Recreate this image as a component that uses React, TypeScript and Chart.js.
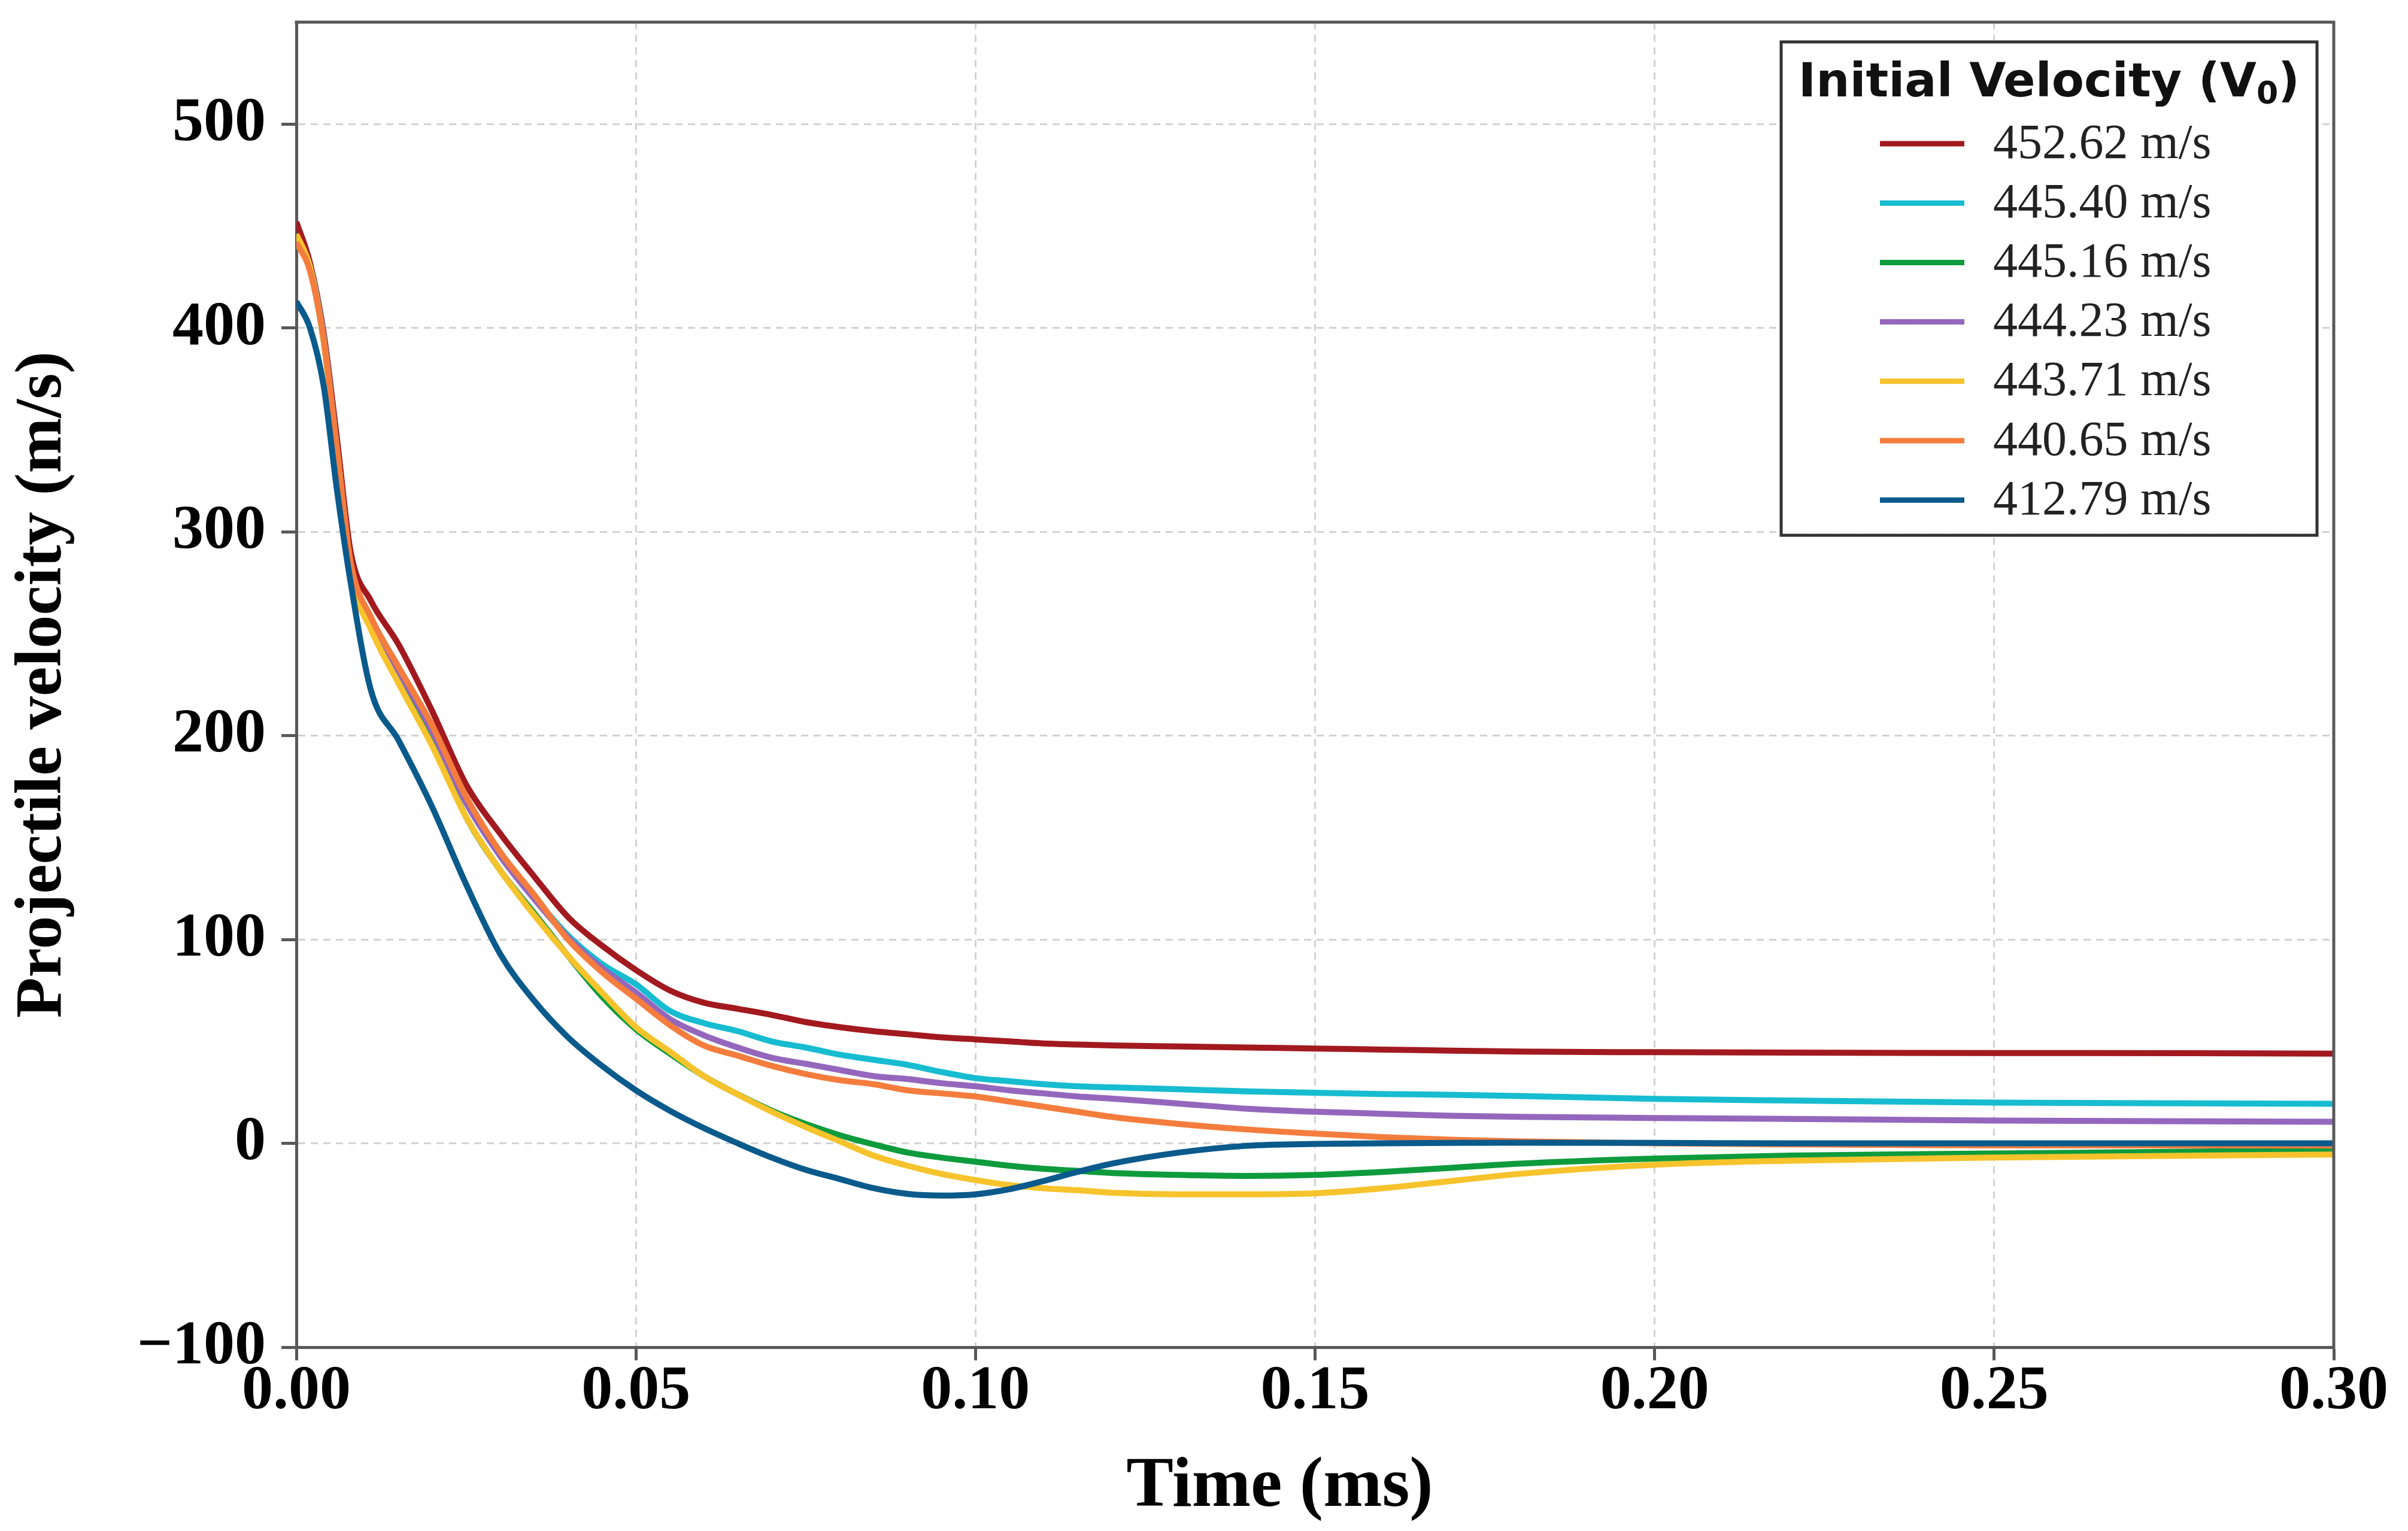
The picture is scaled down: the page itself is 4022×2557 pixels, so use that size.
import React, { useEffect, useRef } from 'react';
import { Chart, registerables } from 'chart.js';

Chart.register(...registerables);

// Time axis samples (ms)
const TIME_MS = [
  0, 0.002, 0.004, 0.006, 0.008, 0.011, 0.015, 0.02, 0.025, 0.03,
  0.035, 0.04, 0.045, 0.05, 0.055, 0.06, 0.065, 0.07, 0.075, 0.08,
  0.085, 0.09, 0.095, 0.1, 0.105, 0.11, 0.115, 0.12, 0.13, 0.14,
  0.15, 0.16, 0.17, 0.18, 0.2, 0.22, 0.25, 0.28, 0.3,
];

// Projectile velocity (m/s) per initial velocity
const V_452_62 = [
  452, 432, 398, 345, 290, 266, 245, 212, 176, 152,
  131, 111, 97, 85, 75, 69, 66, 63, 59.5, 57,
  55, 53.5, 52, 51, 50, 49, 48.5, 48, 47.5, 47,
  46.5, 46, 45.5, 45, 44.7, 44.5, 44.3, 44.2, 44,
];
const V_445_40 = [
  445, 430, 396, 340, 284, 257, 233, 203, 168, 142,
  121, 102, 88, 78, 65, 59, 55, 50, 47, 43.5,
  41, 38.5, 35, 32, 30.5, 29, 28, 27.5, 26.5, 25.5,
  24.8, 24.2, 23.8, 23.2, 21.8, 21, 20, 19.6, 19.4,
];
const V_445_16 = [
  445, 429, 394, 337, 280, 253, 228, 197, 160, 134,
  113, 92, 72, 56, 44, 33, 24, 16, 9.5, 4,
  -0.5, -4.5, -7, -9, -11, -12.5, -13.5, -14.5, -15.5, -16,
  -15.5, -14, -12, -10, -7.5, -6, -5, -4, -3.5,
];
const V_444_23 = [
  444, 429, 395, 339, 283, 256, 232, 202, 167, 141,
  120, 101, 86, 74, 61, 53, 47, 42, 39, 36,
  33, 31.5, 29.5, 28, 26, 24.5, 23, 22, 19.5, 17,
  15.5, 14.5, 13.5, 13, 12.4, 12, 11.2, 10.8, 10.6,
];
const V_443_71 = [
  446, 430, 394, 337, 280, 252, 226, 195, 160, 134,
  112, 92, 74, 57, 45, 33, 24, 15.5, 8, 1,
  -6, -11, -15, -18, -20.5, -22, -23, -24.2, -25, -25,
  -24.5, -22, -18.5, -15, -10.5, -8.5, -7, -6, -5.5,
];
const V_440_65 = [
  442, 428, 395, 340, 285, 258, 234, 205, 170, 143,
  122, 100, 84, 71, 58, 48, 43, 38, 34, 31,
  29, 26, 24.5, 23, 20.5, 18, 15.5, 13, 9.5, 6.8,
  4.8, 3, 1.8, 1, 0, -0.5, -1, -1, -1,
];
const V_412_79 = [
  413, 400, 372, 320, 275, 222, 198, 165, 127, 93,
  70, 52, 38, 26, 16, 7.5, 0, -7, -13, -17.5,
  -22, -24.8, -25.6, -25, -22.5, -18.5, -14, -10, -4.5, -1.2,
  -0.3, 0, 0.2, 0.3, 0.2, 0, 0, 0, 0,
];

const SERIES_LABELS = [
  '452.62 m/s', '445.40 m/s', '445.16 m/s', '444.23 m/s',
  '443.71 m/s', '440.65 m/s', '412.79 m/s',
];
const SERIES_VALUES = [V_452_62, V_445_40, V_445_16, V_444_23, V_443_71, V_440_65, V_412_79];
const SERIES_COLORS = ['#a2191f', '#17bcd0', '#0e9b3d', '#9467bd', '#f6c32c', '#f47d3e', '#0a5a8c'];

const LEGEND_TITLE_MAIN = 'Initial Velocity (V';
const LEGEND_TITLE_SUB = '0';
const LEGEND_TITLE_END = ')';
const X_TITLE = 'Time (ms)';
const Y_TITLE = 'Projectile velocity (m/s)';

const SERIF = '"Liberation Serif", "DejaVu Serif", serif';
const AXIS_COLOR = '#585858';

export default function App() {
  const ref = useRef<HTMLCanvasElement>(null);

  useEffect(() => {
    const canvas = ref.current;
    if (!canvas) return;

    const framePlugin = {
      id: 'frame',
      afterDatasetsDraw(chart: any) {
        const { ctx, chartArea } = chart;
        ctx.save();
        ctx.strokeStyle = AXIS_COLOR;
        ctx.lineWidth = 5;
        ctx.beginPath();
        ctx.moveTo(chartArea.left - 2.5, chartArea.top);
        ctx.lineTo(chartArea.right, chartArea.top);
        ctx.lineTo(chartArea.right, chartArea.bottom + 2.5);
        ctx.stroke();
        ctx.restore();
      },
    };

    const legendPlugin = {
      id: 'boxLegend',
      afterDraw(chart: any) {
        const { ctx, chartArea } = chart;
        const w = 895;
        const h = 824;
        const right = chartArea.right - 28;
        const top = chartArea.top + 33;
        const left = right - w;
        ctx.save();
        ctx.fillStyle = 'rgba(255,255,255,0.95)';
        ctx.fillRect(left, top, w, h);
        ctx.strokeStyle = '#333333';
        ctx.lineWidth = 5;
        ctx.strokeRect(left, top, w, h);

        // title with subscript
        ctx.fillStyle = '#111111';
        ctx.textBaseline = 'alphabetic';
        ctx.textAlign = 'left';
        const mainFont = 'bold 79px "DejaVu Sans", sans-serif';
        const subFont = 'bold 52px "DejaVu Sans", sans-serif';
        ctx.font = mainFont;
        const wMain = ctx.measureText(LEGEND_TITLE_MAIN).width;
        const wEnd = ctx.measureText(LEGEND_TITLE_END).width;
        ctx.font = subFont;
        const wSub = ctx.measureText(LEGEND_TITLE_SUB).width;
        const total = wMain + wSub + wEnd;
        let tx = left + w / 2 - total / 2;
        const ty = top + 91;
        ctx.font = mainFont;
        ctx.fillText(LEGEND_TITLE_MAIN, tx, ty);
        tx += wMain;
        ctx.font = subFont;
        ctx.fillText(LEGEND_TITLE_SUB, tx, ty + 12);
        tx += wSub;
        ctx.font = mainFont;
        ctx.fillText(LEGEND_TITLE_END, tx, ty);

        ctx.font = '82px ' + SERIF;
        ctx.textAlign = 'left';
        ctx.textBaseline = 'middle';
        SERIES_LABELS.forEach((label, i) => {
          const cy = top + 170 + i * 99.2;
          ctx.strokeStyle = SERIES_COLORS[i];
          ctx.lineWidth = 9;
          ctx.beginPath();
          ctx.moveTo(left + 165, cy);
          ctx.lineTo(left + 306, cy);
          ctx.stroke();
          ctx.fillStyle = '#222222';
          ctx.fillText(label, left + 354, cy + 2);
        });
        ctx.restore();
      },
    };

    const tickFont = { family: SERIF, size: 104, weight: 'bold' as const, lineHeight: 1 };

    const chart = new Chart(canvas, {
      type: 'line',
      data: {
        datasets: SERIES_VALUES.map((vals, i) => ({
          label: SERIES_LABELS[i],
          data: TIME_MS.map((t, j) => ({ x: t, y: vals[j] })),
          borderColor: SERIES_COLORS[i],
          backgroundColor: SERIES_COLORS[i],
          borderWidth: 10,
          pointRadius: 0,
          fill: false,
          cubicInterpolationMode: 'monotone' as const,
          order: SERIES_VALUES.length - 1 - i,
        })),
      },
      options: {
        animation: false,
        responsive: true,
        maintainAspectRatio: false,
        devicePixelRatio: 1,
        events: [],
        layout: { padding: { left: 0, top: 37, right: 124, bottom: 0 } },
        plugins: {
          legend: { display: false },
          tooltip: { enabled: false },
        },
        scales: {
          x: {
            type: 'linear',
            min: 0,
            max: 0.3,
            afterFit: (s: any) => { s.height = 307; },
            ticks: {
              stepSize: 0.05,
              autoSkip: false,
              maxRotation: 0,
              padding: 1,
              color: '#000000',
              font: tickFont,
              callback: (v: any) => Number(v).toFixed(2),
            },
            grid: {
              color: '#d2d2d2',
              lineWidth: 3,
              tickLength: 22,
              tickColor: AXIS_COLOR,
              tickWidth: 5,
            },
            border: { display: true, color: AXIS_COLOR, width: 5, dash: [12, 9] },
            title: {
              display: true,
              text: X_TITLE + '    ',
              color: '#000000',
              font: { family: SERIF, size: 118, weight: 'bold' },
              padding: { top: 0, bottom: 2 },
            },
          },
          y: {
            type: 'linear',
            min: -100,
            max: 550,
            afterFit: (s: any) => {
              s.width = 495;
              s.paddingTop = 0;
              s.paddingBottom = 0;
            },
            ticks: {
              stepSize: 100,
              includeBounds: false,
              padding: 26,
              color: '#000000',
              font: tickFont,
              callback: (v: any) => (Number(v) < 0 ? '\u2212' + Math.abs(Number(v)) : String(v)),
            },
            grid: {
              color: '#d2d2d2',
              lineWidth: 3,
              tickLength: 25,
              tickColor: AXIS_COLOR,
              tickWidth: 5,
            },
            border: { display: true, color: AXIS_COLOR, width: 5, dash: [12, 9] },
            title: {
              display: true,
              text: Y_TITLE,
              color: '#000000',
              font: { family: SERIF, size: 111, weight: 'bold' },
              padding: { top: 6, bottom: 0 },
            },
          },
        },
      },
      plugins: [framePlugin, legendPlugin],
    });

    return () => chart.destroy();
  }, []);

  return (
    <div style={{ position: 'fixed', left: 0, top: 0, width: '4022px', height: '2557px', background: '#ffffff' }}>
      <canvas ref={ref} />
    </div>
  );
}
